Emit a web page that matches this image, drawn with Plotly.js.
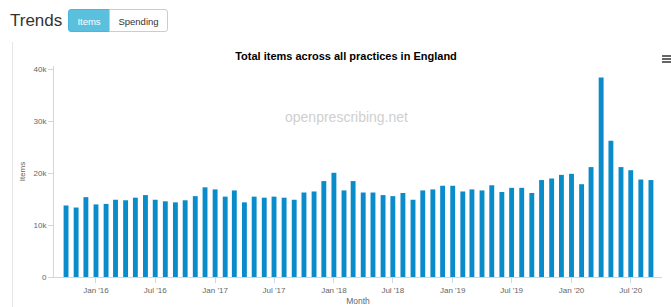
<!DOCTYPE html>
<html>
<head>
<meta charset="utf-8">
<script src="https://cdn.plot.ly/plotly-3.0.1.min.js"></script>
<style>
  html, body { margin:0; padding:0; background:#fff; width:671px; height:307px; overflow:hidden; font-family:"Liberation Sans", Arial, sans-serif; }
  #hdr { position:absolute; left:10px; top:9px; font-size:17px; color:#333; line-height:23px; }
  .btn { position:absolute; top:9px; height:23px; line-height:23px; font-size:9.5px; text-align:center; box-sizing:border-box; }
  #b1 { left:68px; width:42px; background:#5bc0de; color:#fff; border:1px solid #46b8da; border-radius:3px 0 0 3px; }
  #b2 { left:109px; width:59px; background:#fff; color:#333; border:1px solid #ccc; border-radius:0 3px 3px 0; }
  #vline { position:absolute; left:12px; top:42px; width:1px; height:265px; background:#e6e6e6; }
  #chart { position:absolute; left:0; top:0; width:671px; height:307px; }
  #menu { position:absolute; left:662px; top:55px; width:9px; }
  #menu div { height:1.5px; background:#666; margin-bottom:1.7px; }
</style>
</head>
<body>
<div id="chart"></div>
<div id="vline"></div>
<div id="hdr">Trends</div>
<div class="btn" id="b1">Items</div>
<div class="btn" id="b2">Spending</div>
<div id="menu"><div></div><div></div><div></div></div>
<script>
const months = [
  '2015-10-01','2015-11-01','2015-12-01',
  '2016-01-01','2016-02-01','2016-03-01','2016-04-01','2016-05-01','2016-06-01',
  '2016-07-01','2016-08-01','2016-09-01','2016-10-01','2016-11-01','2016-12-01',
  '2017-01-01','2017-02-01','2017-03-01','2017-04-01','2017-05-01','2017-06-01',
  '2017-07-01','2017-08-01','2017-09-01','2017-10-01','2017-11-01','2017-12-01',
  '2018-01-01','2018-02-01','2018-03-01','2018-04-01','2018-05-01','2018-06-01',
  '2018-07-01','2018-08-01','2018-09-01','2018-10-01','2018-11-01','2018-12-01',
  '2019-01-01','2019-02-01','2019-03-01','2019-04-01','2019-05-01','2019-06-01',
  '2019-07-01','2019-08-01','2019-09-01','2019-10-01','2019-11-01','2019-12-01',
  '2020-01-01','2020-02-01','2020-03-01','2020-04-01','2020-05-01','2020-06-01',
  '2020-07-01','2020-08-01','2020-09-01'
];
const items = [
  13800,13400,15400,
  14000,14100,14900,14800,15300,15800,
  14900,14600,14400,14800,15600,17300,
  16900,15500,16700,14400,15500,15300,
  15500,15300,14900,16300,16500,18500,
  20100,16700,18500,16300,16300,15800,
  15600,16200,14900,16700,16900,17600,
  17600,16500,16900,16700,17700,16400,
  17200,17200,16200,18700,19000,19700,
  19900,17900,21200,38500,26300,21200,
  20600,18800,18700
];
const xTickVals = ['2016-01-01','2016-07-01','2017-01-01','2017-07-01','2018-01-01','2018-07-01','2019-01-01','2019-07-01','2020-01-01','2020-07-01'];
const xTickText = ["Jan '16","Jul '16","Jan '17","Jul '17","Jan '18","Jul '18","Jan '19","Jul '19","Jan '20","Jul '20"];
const yTickVals = [0,10000,20000,30000,40000];
const yTickText = ['0','10k','20k','30k','40k'];
const chartTitle = 'Total items across all practices in England';
const watermark = 'openprescribing.net';

const FONT = '"Liberation Sans", Arial, sans-serif';
const axisCol = '#ccd6eb';

const trace = {
  type:'bar', x: months, y: items,
  width: 15*86400000,
  marker:{ color:'#0a8ccb', line:{width:0} },
  hoverinfo:'skip'
};

const layout = {
  width:671, height:307,
  margin:{l:54, r:9, t:65.5, b:29.5},
  paper_bgcolor:'rgba(0,0,0,0)', plot_bgcolor:'rgba(0,0,0,0)',
  showlegend:false,
  font:{family:FONT, size:8, color:'#666'},
  title:{text:chartTitle, font:{family:FONT, size:11, color:'#000', weight:'bold'},
         x:346/671, xref:'container', xanchor:'center', y:1-56.5/307, yref:'container', yanchor:'middle'},
  xaxis:{type:'date', range:['2015-08-25','2020-10-05'],
         tickvals:xTickVals, ticktext:xTickText, tickangle:0,
         showgrid:false, zeroline:false, showline:true, linecolor:axisCol, linewidth:1,
         ticks:'outside', ticklen:5, tickcolor:axisCol,
         tickfont:{family:FONT, size:8, color:'#666'},
         title:{text:'Month', font:{family:FONT, size:8.5, color:'#666'}, standoff:4}},
  yaxis:{range:[0,40700], tickvals:yTickVals, ticktext:yTickText,
         showgrid:false, zeroline:false, showline:true, linecolor:axisCol, linewidth:1,
         ticks:'outside', ticklen:5, tickcolor:axisCol,
         tickfont:{family:FONT, size:8, color:'#666'},
         title:{text:'Items', font:{family:FONT, size:8, color:'#666'}, standoff:6}},
  annotations:[{text:watermark, xref:'paper', yref:'paper', x:(346-54)/608, y:(277.5-117)/212,
                xanchor:'center', yanchor:'middle', showarrow:false,
                font:{family:FONT, size:14, color:'#cfcfcf'}}]
};

Plotly.newPlot('chart', [trace], layout, {displayModeBar:false, staticPlot:true});
</script>
</body>
</html>
